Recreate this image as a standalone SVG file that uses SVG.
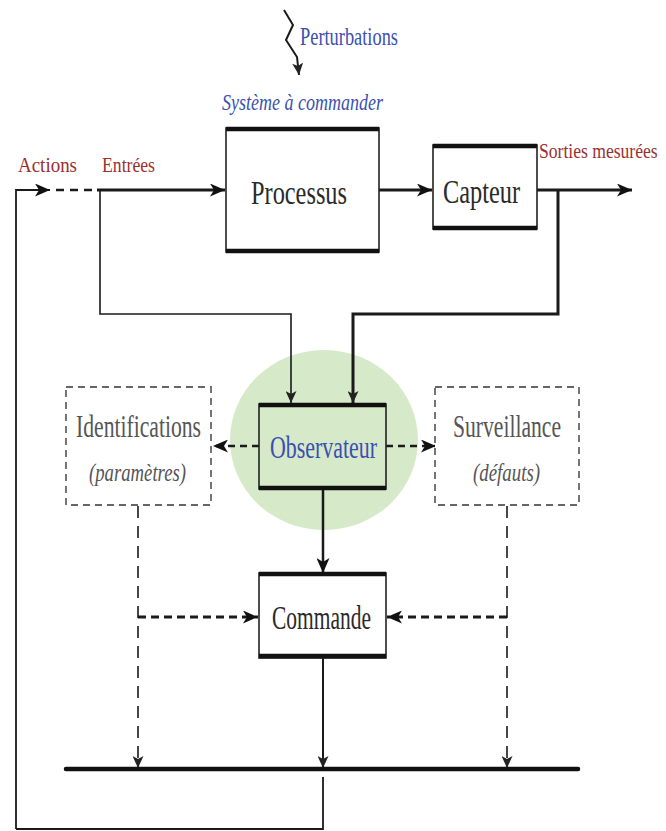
<svg xmlns="http://www.w3.org/2000/svg" width="666" height="831" viewBox="0 0 666 831">
  <style>
    .serif { font-family: "Liberation Serif", "Times New Roman", serif; }
    .red { fill: #9a2f2f; }
    .blue { fill: #3b4fb0; }
    .gray { fill: #555555; }
    .dark { fill: #2a2a2a; }
    .side { stroke: #222; stroke-width: 1.6; fill: none; }
    .edge { stroke: #111; stroke-width: 4.5; fill: none; }
    .dbox { stroke: #666; stroke-width: 1.8; stroke-dasharray: 7 5; fill: #fff; }
    .wire { stroke: #1a1a1a; fill: none; }
  </style>
  <defs>
    <marker id="ah" markerUnits="userSpaceOnUse" markerWidth="15" markerHeight="13" viewBox="0 0 15 13" refX="15" refY="6.5" orient="auto">
      <path d="M0,0 L15,6.5 L0,13 L4,6.5 z" fill="#111"/>
    </marker>
    <marker id="ahs" markerUnits="userSpaceOnUse" markerWidth="12" markerHeight="11" viewBox="0 0 12 11" refX="12" refY="5.5" orient="auto">
      <path d="M0,0 L12,5.5 L0,11 L3,5.5 z" fill="#222"/>
    </marker>
  </defs>

  <rect width="666" height="831" fill="#ffffff"/>

  <!-- observer highlight -->
  <ellipse cx="324" cy="440" rx="94" ry="90" fill="#d6e9c9"/>

  <!-- connectors -->
  <g id="connectors">
    <!-- disturbance -->
    <path class="wire" d="M284,10 L293,25 L286,40 L297,57 L299,75" stroke-width="2" marker-end="url(#ahs)"/>
    <!-- main chain -->
    <path class="wire" d="M16,829 L16,190 L50,190" stroke-width="1.8" marker-end="url(#ah)"/>
    <path class="wire" d="M56,190 L97,190" stroke-width="2.5" stroke-dasharray="8 6"/>
    <path class="wire" d="M97,190 L225,190" stroke-width="3.2" marker-end="url(#ah)"/>
    <path class="wire" d="M379,190 L432,190" stroke-width="3.2" marker-end="url(#ah)"/>
    <path class="wire" d="M537,190 L632,190" stroke-width="3.2" marker-end="url(#ah)"/>
    <!-- measurement taps to observer -->
    <path class="wire" d="M100,190 L100,314 L291,314 L291,403" stroke-width="1.6" marker-end="url(#ahs)"/>
    <path class="wire" d="M558,190 L558,314 L353,314 L353,403" stroke-width="3" marker-end="url(#ahs)"/>
    <!-- observer outputs -->
    <path class="wire" d="M259,446 L213,446" stroke-width="2.5" stroke-dasharray="7 5" marker-end="url(#ah)"/>
    <path class="wire" d="M386,446 L436,446" stroke-width="2.5" stroke-dasharray="7 5" marker-end="url(#ah)"/>
    <path class="wire" d="M323,489 L323,573" stroke-width="2.5" marker-end="url(#ah)"/>
    <!-- estimates to control -->
    <path class="wire" d="M138,617 L258,617" stroke-width="3" stroke-dasharray="8 5" marker-end="url(#ah)"/>
    <path class="wire" d="M507,617 L387,617" stroke-width="3" stroke-dasharray="8 5" marker-end="url(#ah)"/>
    <!-- drops to bus -->
    <path class="wire" d="M138,506 L138,768" stroke="#555" stroke-width="1.6" stroke-dasharray="12 8" marker-end="url(#ahs)"/>
    <path class="wire" d="M507,506 L507,768" stroke="#555" stroke-width="1.6" stroke-dasharray="12 8" marker-end="url(#ahs)"/>
    <path class="wire" d="M323,658 L323,768" stroke-width="2" marker-end="url(#ahs)"/>
    <!-- bus -->
    <line x1="66" y1="769" x2="578" y2="769" stroke="#111" stroke-width="4.5" stroke-linecap="round"/>
    <!-- feedback return -->
    <path class="wire" d="M323,777 L323,829 L16,829" stroke-width="1.8"/>
  </g>

  <!-- labels on the chain -->
  <g id="labels" class="serif">
    <text x="300" y="45" font-size="25" class="blue" textLength="98" lengthAdjust="spacingAndGlyphs">Perturbations</text>
    <text x="222" y="110" font-size="24" font-style="italic" class="blue" textLength="161" lengthAdjust="spacingAndGlyphs">Système à commander</text>
    <text x="18" y="172" font-size="22" class="red" textLength="59" lengthAdjust="spacingAndGlyphs">Actions</text>
    <text x="102" y="172" font-size="22" class="red" textLength="53" lengthAdjust="spacingAndGlyphs">Entrées</text>
    <text transform="translate(539,158) scale(0.8,1)" font-size="22" class="red">Sorties mesurées</text>
  </g>

  <g id="processus">
    <rect x="226" y="128" width="153" height="124" fill="#fff" class="side"/>
    <line x1="226" y1="129" x2="379" y2="129" class="edge"/>
    <line x1="226" y1="251" x2="379" y2="251" class="edge"/>
    <text x="251" y="204" font-size="33" class="serif dark" textLength="96" lengthAdjust="spacingAndGlyphs">Processus</text>
  </g>

  <g id="capteur">
    <rect x="433" y="145" width="104" height="84" fill="#fff" class="side"/>
    <line x1="433" y1="146" x2="537" y2="146" class="edge"/>
    <line x1="433" y1="228" x2="537" y2="228" class="edge"/>
    <text x="443" y="203" font-size="33" class="serif dark" textLength="77" lengthAdjust="spacingAndGlyphs">Capteur</text>
  </g>

  <g id="observateur">
    <rect x="259" y="404" width="127" height="85" fill="#fff" class="side"/>
    <line x1="259" y1="405" x2="386" y2="405" class="edge"/>
    <line x1="259" y1="488" x2="386" y2="488" class="edge"/>
    <text x="270" y="458" font-size="32" class="serif blue" textLength="107" lengthAdjust="spacingAndGlyphs">Observateur</text>
  </g>

  <g id="identifications">
    <rect x="66" y="387" width="145" height="118" class="dbox"/>
    <text x="76" y="437" font-size="31" class="serif gray" textLength="125" lengthAdjust="spacingAndGlyphs">Identifications</text>
    <text x="89" y="481" font-size="25" font-style="italic" class="serif gray" textLength="97" lengthAdjust="spacingAndGlyphs">(paramètres)</text>
  </g>

  <g id="surveillance">
    <rect x="435" y="387" width="144" height="118" class="dbox"/>
    <text x="453" y="437" font-size="31" class="serif gray" textLength="108" lengthAdjust="spacingAndGlyphs">Surveillance</text>
    <text x="473" y="481" font-size="25" font-style="italic" class="serif gray" textLength="67" lengthAdjust="spacingAndGlyphs">(défauts)</text>
  </g>

  <g id="commande">
    <rect x="259" y="573" width="127" height="85" fill="#fff" class="side"/>
    <line x1="259" y1="574" x2="386" y2="574" class="edge"/>
    <line x1="259" y1="656" x2="386" y2="656" class="edge"/>
    <text x="272" y="629" font-size="33" class="serif dark" textLength="99" lengthAdjust="spacingAndGlyphs">Commande</text>
  </g>
</svg>
